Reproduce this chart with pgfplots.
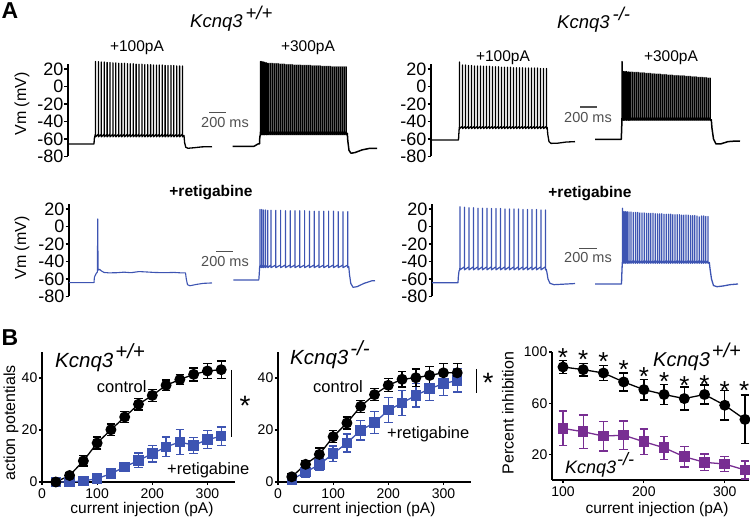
\documentclass[border=0pt]{standalone}
\usepackage{fontspec}
\setmainfont{Liberation Sans}
\usepackage{pgfplots}
\usepackage{pgfplotstable}
\pgfplotsset{compat=1.18}
\definecolor{rblue}{RGB}{61,84,178}
\definecolor{rpurp}{RGB}{120,46,146}
\definecolor{sgray}{RGB}{80,80,80}
\newcommand{\fs}[1]{\fontsize{#1}{#1}\selectfont}
\pgfplotsset{
  trace/.style={scale only axis, anchor=south west, height=92.75pt, xmin=0, ymin=-80, ymax=26,
    axis x line=none, axis y line*=left, clip=false,
    ytick={-80,-60,-40,-20,0,20}, yticklabels={-80,-60,-40,-20,0,20},
    tick align=outside, major tick length=3.5pt, axis line style={line width=1.3pt},
    tick style={line width=1.2pt, black}, yticklabel style={font=\fs{18}, inner sep=1pt}},
  bplot/.style={scale only axis, anchor=south west, axis lines*=left, clip=false,
    axis line style={line width=1.4pt}, tick align=outside, major tick length=3pt,
    tick style={line width=1.2pt, black}, ticklabel style={font=\fs{14}},
    yticklabel style={inner sep=1.5pt}, /pgf/number format/assume math mode=true},
  ebar/.style={error bars/y dir=both, error bars/y explicit,
    error bars/error bar style={line width=1.4pt},
    error bars/error mark options={rotate=90, line width=1.4pt, mark size=4.3pt}},
}
\pgfplotstableread{
x y e
25 0 0.8
50 2.5 1
75 8.1 2
100 15 2.3
125 20.1 2.2
150 25 2.2
175 29.9 2.2
200 33.3 2.3
225 37.2 2
250 39.4 2
275 41.4 2.5
300 42.7 2.8
325 43.2 3.3
}\wtctl
\pgfplotstableread{
x y e
25 0 0.5
50 0 0.8
75 0.4 0.8
100 1.3 1
125 3.2 1.2
150 5.8 1.8
175 8.3 2.8
200 10.9 3.2
225 13.5 3.8
250 15.4 4.8
275 14.1 3.1
300 16.3 3.4
325 17.6 3.5
}\wtret
\pgfplotstableread{
x y e
25 2 1
50 6.8 1.5
75 10.6 2.5
100 17.4 2.3
125 22.7 2.3
150 29.1 2.3
175 33.6 2.3
200 37.2 2.5
225 39.5 3
250 40.1 3.3
275 41 3.5
300 42 3.5
325 42 3.5
}\kocctl
\pgfplotstableread{
x y e
25 1 1
50 3.8 2
75 6.7 2.3
100 10.9 3
125 15 3.5
150 19.9 3.8
175 22.8 4.2
200 27.6 4.8
225 30.4 4.8
250 33.3 4.5
275 35.9 4.5
300 37.8 4.5
325 39.1 4.5
}\kocret
\pgfplotstableread{
x y e
100 88.3 5
125 86.2 5
150 83.6 6
175 76.6 7
200 70.6 8
225 66.8 8
250 63.6 9
275 66.8 7.5
300 58.4 11.5
325 47.3 19
}\inhwt
\pgfplotstableread{
x y e
100 40.3 13.5
125 37.7 13
150 34.3 11.5
175 35 11
200 29.9 10
225 25.2 9
250 18.2 8
275 13.8 6.5
300 12.5 6
325 7.8 7
}\inhko
\begin{document}
\begin{tikzpicture}[x=1pt,y=1pt]
\useasboundingbox (0,0) rectangle (750,524);
% ---------------- Panel A ----------------
\node[font=\fs{23}\bfseries] at (10,513) {A};
\node[anchor=base west, inner sep=0, font=\fs{18.5}\itshape] at (190,496) {Kcnq3\hspace{3pt}\raisebox{0.45em}{+/+}};
\node[anchor=base west, inner sep=0, font=\fs{18.5}\itshape] at (557,495) {Kcnq3\hspace{3pt}\raisebox{0.45em}{-/-}};
\node[anchor=base, inner sep=0, font=\fs{15.5}] at (137,472) {+100pA};
\node[anchor=base, inner sep=0, font=\fs{15.5}] at (308,472) {+300pA};
\node[anchor=base, inner sep=0, font=\fs{15.5}] at (503,462) {+100pA};
\node[anchor=base, inner sep=0, font=\fs{15.5}] at (671,462) {+300pA};
\node[anchor=base, inner sep=0, font=\fs{15.5}\bfseries] at (211,327) {+retigabine};
\node[anchor=base, inner sep=0, font=\fs{15.5}\bfseries] at (590,326) {+retigabine};
\node[rotate=90, font=\fs{16}] at (22,420) {Vm (mV)};
\node[rotate=90, font=\fs{16}] at (22,276) {Vm (mV)};

% top-left
\begin{axis}[trace, at={(68pt,367.5pt)}, width=310pt, xmax=310]
\addplot[black, line width=1.3pt, line join=round] coordinates {
(0,-65.7)(26,-65.7)(26.3,-60)(27.2,-55)
(27.5,-54.5)(27.5,28.5)(27.5,-57.5)
(30.4,-54.5)(30.4,28.5)(30.4,-57.5)
(33.3,-54.5)(33.3,28)(33.3,-57.5)
(36.2,-54.5)(36.2,28)(36.2,-57.5)
(39.1,-54.5)(39.1,27.5)(39.1,-57.5)
(42,-54.5)(42,27.5)(42,-57.5)
(44.9,-54.5)(44.9,27)(44.9,-57.5)
(47.8,-54.5)(47.8,27)(47.8,-57.5)
(50.7,-54.5)(50.7,26.5)(50.7,-57.5)
(53.6,-54.5)(53.6,26.5)(53.6,-57.5)
(56.5,-54.5)(56.5,26.5)(56.5,-57.5)
(59.4,-54.5)(59.4,26)(59.4,-57.5)
(62.3,-54.5)(62.3,26)(62.3,-57.5)
(65.2,-54.5)(65.2,26)(65.2,-57.5)
(68.1,-54.5)(68.1,25.5)(68.1,-57.5)
(71,-54.5)(71,25.5)(71,-57.5)
(73.9,-54.5)(73.9,25.5)(73.9,-57.5)
(76.8,-54.5)(76.8,25)(76.8,-57.5)
(79.7,-54.5)(79.7,25)(79.7,-57.5)
(82.6,-54.5)(82.6,25)(82.6,-57.5)
(85.5,-54.5)(85.5,24.5)(85.5,-57.5)
(88.4,-54.5)(88.4,24.5)(88.4,-57.5)
(91.3,-54.5)(91.3,24.5)(91.3,-57.5)
(94.2,-54.5)(94.2,24.5)(94.2,-57.5)
(97.1,-54.5)(97.1,24)(97.1,-57.5)
(100,-54.5)(100,24)(100,-57.5)
(102.9,-54.5)(102.9,24)(102.9,-57.5)
(105.8,-54.5)(105.8,24)(105.8,-57.5)
(108.7,-54.5)(108.7,23.5)(108.7,-57.5)
(111.6,-54.5)(111.6,23.5)(111.6,-57.5)
(114.5,-54.5)(114.5,23.5)(114.5,-57.5)
(116,-56)(116.6,-64)(117.8,-69.5)(120,-70.6)(126,-70)(134,-69)(144,-68.8)
};
\addplot[black, line width=1.5pt, line join=round] coordinates {
(164.5,-68.3)(186,-68.3)(188,-67)(190,-65.7)(191.5,-65.5)(191.8,-58)(192.3,-55)
(192.5,-52)(192.5,28.5)(192.5,-55)
(193.8,-52)(193.8,28.5)(193.8,-55)
(195.2,-52)(195.2,28)(195.2,-55)
(196.7,-52)(196.7,27.5)(196.7,-55)
(198.3,-52)(198.3,27)(198.3,-55)
(200,-52)(200,26.5)(200,-55)
(202,-52)(202,26.5)(202,-55)
(204,-52)(204,26.5)(204,-55)
(206,-52)(206,26)(206,-55)
(208,-52)(208,26)(208,-55)
(210,-52)(210,26)(210,-55)
(212,-52)(212,25.5)(212,-55)
(214,-52)(214,25.5)(214,-55)
(216,-52)(216,25.5)(216,-55)
(218,-52)(218,25)(218,-55)
(220,-52)(220,25)(220,-55)
(222,-52)(222,25)(222,-55)
(224,-52)(224,25)(224,-55)
(226,-52)(226,24.5)(226,-55)
(228,-52)(228,24.5)(228,-55)
(230,-52)(230,24.5)(230,-55)
(232,-52)(232,24.5)(232,-55)
(234,-52)(234,24)(234,-55)
(236,-52)(236,24)(236,-55)
(238,-52)(238,24)(238,-55)
(240,-52)(240,24)(240,-55)
(242,-52)(242,24)(242,-55)
(244,-52)(244,23.5)(244,-55)
(246,-52)(246,23.5)(246,-55)
(248,-52)(248,23.5)(248,-55)
(250,-52)(250,23.5)(250,-55)
(252,-52)(252,23.5)(252,-55)
(254,-52)(254,23)(254,-55)
(256,-52)(256,23)(256,-55)
(258,-52)(258,23)(258,-55)
(260,-52)(260,23)(260,-55)
(262,-52)(262,23)(262,-55)
(264,-52)(264,22.5)(264,-55)
(266,-52)(266,22.5)(266,-55)
(268,-52)(268,22.5)(268,-55)
(270,-52)(270,22.5)(270,-55)
(272,-52)(272,22.5)(272,-55)
(274,-52)(274,22.5)(274,-55)
(276,-52)(276,22.5)(276,-55)
(278,-52)(278,22.5)(278,-55)
(279.3,-53.5)(279.8,-62)(281,-73)(283,-76.3)(287,-75.5)(294,-72.5)(302,-70.6)(309,-70.6)
};
\draw[sgray, line width=1.5pt] (axis cs:141,-29.7) -- (axis cs:158,-29.7);
\node[sgray, font=\fs{14.5}] at (axis cs:157,-41.1) {200 ms};
\end{axis}

% top-right
\begin{axis}[trace, at={(431pt,367.5pt)}, width=311pt, xmax=311]
\addplot[black, line width=1.3pt, line join=round] coordinates {
(0,-61.1)(27.5,-61.1)(27.8,-55)(28.2,-48)
(28.5,-45.5)(28.5,28)(28.5,-48)
(31.5,-45.5)(31.5,24.5)(31.5,-48)
(34.5,-45.5)(34.5,24.5)(34.5,-48)
(37.5,-45.5)(37.5,24)(37.5,-48)
(40.5,-45.5)(40.5,24)(40.5,-48)
(43.5,-45.5)(43.5,23.5)(43.5,-48)
(46.5,-45.5)(46.5,23.5)(46.5,-48)
(49.5,-45.5)(49.5,23.5)(49.5,-48)
(52.5,-45.5)(52.5,23)(52.5,-48)
(55.5,-45.5)(55.5,23)(55.5,-48)
(58.5,-45.5)(58.5,23)(58.5,-48)
(61.5,-45.5)(61.5,22.5)(61.5,-48)
(64.5,-45.5)(64.5,22.5)(64.5,-48)
(67.5,-45.5)(67.5,22.5)(67.5,-48)
(70.5,-45.5)(70.5,22)(70.5,-48)
(73.5,-45.5)(73.5,22)(73.5,-48)
(76.5,-45.5)(76.5,22)(76.5,-48)
(79.5,-45.5)(79.5,22)(79.5,-48)
(82.5,-45.5)(82.5,21.5)(82.5,-48)
(85.5,-45.5)(85.5,21.5)(85.5,-48)
(88.5,-45.5)(88.5,21.5)(88.5,-48)
(91.5,-45.5)(91.5,21.5)(91.5,-48)
(94.5,-45.5)(94.5,21)(94.5,-48)
(97.5,-45.5)(97.5,21)(97.5,-48)
(100.5,-45.5)(100.5,21)(100.5,-48)
(103.5,-45.5)(103.5,21)(103.5,-48)
(106.5,-45.5)(106.5,21)(106.5,-48)
(109.5,-45.5)(109.5,20.5)(109.5,-48)
(112.5,-45.5)(112.5,20.5)(112.5,-48)
(115.5,-45.5)(115.5,20.5)(115.5,-48)
(116.2,-47)(116.8,-55)(118,-63)(120,-65)(126,-64.9)(135,-63.5)(144,-63)
};
\addplot[black, line width=1.5pt, line join=round] coordinates {
(164,-60.3)(190.3,-60.3)(190.6,-50)(190.9,-40)
(191,-36)(191,28.5)(191,-38.5)
(192.5,-36)(192.5,17)(192.5,-38.5)
(194,-36)(194,17)(194,-38.5)
(195.6,-36)(195.6,17)(195.6,-38.5)
(197.3,-36)(197.3,16.5)(197.3,-38.5)
(199,-36)(199,16.5)(199,-38.5)
(201,-36)(201,16.5)(201,-38.5)
(203,-36)(203,16)(203,-38.5)
(205,-36)(205,16)(205,-38.5)
(207,-36)(207,16)(207,-38.5)
(209,-36)(209,15.5)(209,-38.5)
(211,-36)(211,15.5)(211,-38.5)
(213,-36)(213,15.5)(213,-38.5)
(215,-36)(215,15)(215,-38.5)
(217,-36)(217,15)(217,-38.5)
(219,-36)(219,15)(219,-38.5)
(221,-36)(221,14.5)(221,-38.5)
(223,-36)(223,14.5)(223,-38.5)
(225,-36)(225,14)(225,-38.5)
(227,-36)(227,14)(227,-38.5)
(229,-36)(229,14)(229,-38.5)
(231,-36)(231,13.5)(231,-38.5)
(233,-36)(233,13.5)(233,-38.5)
(235,-36)(235,13.5)(235,-38.5)
(237,-36)(237,13)(237,-38.5)
(239,-36)(239,13)(239,-38.5)
(241,-36)(241,13)(241,-38.5)
(243,-36)(243,12.5)(243,-38.5)
(245,-36)(245,12.5)(245,-38.5)
(247,-36)(247,12.5)(247,-38.5)
(249,-36)(249,12)(249,-38.5)
(251,-36)(251,12)(251,-38.5)
(253,-36)(253,12)(253,-38.5)
(255,-36)(255,11.5)(255,-38.5)
(257,-36)(257,11.5)(257,-38.5)
(259,-36)(259,11.5)(259,-38.5)
(261,-36)(261,11)(261,-38.5)
(263,-36)(263,11)(263,-38.5)
(265,-36)(265,11)(265,-38.5)
(267,-36)(267,10.5)(267,-38.5)
(269,-36)(269,10.5)(269,-38.5)
(271,-36)(271,10.5)(271,-38.5)
(273,-36)(273,10)(273,-38.5)
(275,-36)(275,10)(275,-38.5)
(277,-36)(277,9.5)(277,-38.5)
(279,-36)(279,9.5)(279,-38.5)
(280.3,-38)(281,-48)(282.5,-60)(285,-65.7)(290,-65.5)(297,-63)(305,-62.3)(309,-62.5)
};
\draw[sgray, line width=1.5pt] (axis cs:149,-23.4) -- (axis cs:166,-23.4);
\node[sgray, font=\fs{14.5}] at (axis cs:157,-34.9) {200 ms};
\end{axis}

% bottom-left
\begin{axis}[trace, at={(69pt,227.5pt)}, width=310pt, xmax=310]
\addplot[rblue, line width=1.1pt, line join=round] coordinates {
(0,-64.2)(25,-64.2)(25.4,-58)(27,-54)(28.4,-52)(28.7,8.6)(29.1,-50)(30.5,-48.9)(32,-50.5)(35,-52.5)(40,-53)(48,-52.8)(55,-52.2)(62,-52.8)(70,-51.5)(78,-52)(85,-52.5)(95,-52.8)(105,-52.5)(112,-53)(116.5,-53)(117.3,-60)(118.5,-66.5)(121,-67.7)(127,-66.3)(134,-65)(143,-64.5)
};
\addplot[rblue, line width=1.2pt, line join=round] coordinates {
(164.3,-61.1)(189.8,-61.1)(190.2,-55)(190.6,-47)
(191,-44)(191,19.5)(191,-47)
(192.7,-44)(192.7,19.5)(192.7,-47)
(194.5,-44)(194.5,19)(194.5,-47)
(196.5,-44)(196.5,19)(196.5,-47)
(198.8,-44)(198.8,18.5)(198.8,-47)
(202,-44)(202,18.5)(202,-47)
(206.8,-44)(206.8,18.5)(206.8,-47)
(211.6,-44)(211.6,18.5)(211.6,-47)
(216.4,-44)(216.4,18)(216.4,-47)
(221.2,-44)(221.2,18)(221.2,-47)
(226,-44)(226,18)(226,-47)
(230.8,-44)(230.8,18)(230.8,-47)
(235.6,-44)(235.6,18)(235.6,-47)
(240.4,-44)(240.4,17.5)(240.4,-47)
(245.2,-44)(245.2,17.5)(245.2,-47)
(250,-44)(250,17.5)(250,-47)
(254.8,-44)(254.8,17.5)(254.8,-47)
(259.6,-44)(259.6,17.5)(259.6,-47)
(264.4,-44)(264.4,17.5)(264.4,-47)
(269.2,-44)(269.2,17)(269.2,-47)
(274,-44)(274,17)(274,-47)
(278.8,-44)(278.8,17)(278.8,-47)
(279.8,-46)(280.5,-55)(281.8,-65)(284,-69.5)(288,-68.8)(295,-65)(303,-62)(306,-61.9)
};
\draw[sgray, line width=1.5pt] (axis cs:147,-28.8) -- (axis cs:164,-28.8);
\node[sgray, font=\fs{14.5}] at (axis cs:156,-40.2) {200 ms};
\end{axis}

% bottom-right
\begin{axis}[trace, at={(432pt,227.5pt)}, width=311pt, xmax=311]
\addplot[rblue, line width=1.2pt, line join=round] coordinates {
(0,-64.2)(26,-64.2)(26.3,-58)(27,-51)(27.7,-49)
(28,-46)(28,22.5)(28,-49.5)
(32.5,-46)(32.5,22)(32.5,-49.5)
(37,-46)(37,21.5)(37,-49.5)
(41.5,-46)(41.5,21.5)(41.5,-49.5)
(46,-46)(46,21)(46,-49.5)
(50.5,-46)(50.5,21)(50.5,-49.5)
(55,-46)(55,21)(55,-49.5)
(59.5,-46)(59.5,20.5)(59.5,-49.5)
(64,-46)(64,20.5)(64,-49.5)
(68.5,-46)(68.5,20.5)(68.5,-49.5)
(73,-46)(73,20)(73,-49.5)
(77.5,-46)(77.5,20)(77.5,-49.5)
(82,-46)(82,20)(82,-49.5)
(86.5,-46)(86.5,20)(86.5,-49.5)
(91,-46)(91,19.5)(91,-49.5)
(95.5,-46)(95.5,19.5)(95.5,-49.5)
(100,-46)(100,19.5)(100,-49.5)
(104.5,-46)(104.5,19.5)(104.5,-49.5)
(109,-46)(109,19)(109,-49.5)
(113.5,-46)(113.5,19)(113.5,-49.5)
(114.3,-49)(115,-53)(116,-60)(118,-65)(122,-66.5)(130,-66)(143,-65.2)
};
\addplot[rblue, line width=1.3pt, line join=round] coordinates {
(163,-65.7)(189.5,-65.7)(189.8,-55)(190.2,-44)
(190.5,-39)(190.5,20.8)(190.5,-42)
(192,-39)(192,17)(192,-42)
(193.6,-39)(193.6,17)(193.6,-42)
(195.3,-39)(195.3,16.8)(195.3,-42)
(197,-39)(197,16.5)(197,-42)
(199,-39)(199,16.5)(199,-42)
(201.2,-39)(201.2,16)(201.2,-42)
(203.4,-39)(203.4,16)(203.4,-42)
(205.6,-39)(205.6,16)(205.6,-42)
(207.8,-39)(207.8,15.5)(207.8,-42)
(210,-39)(210,15.5)(210,-42)
(212.2,-39)(212.2,15.5)(212.2,-42)
(214.4,-39)(214.4,15)(214.4,-42)
(216.6,-39)(216.6,15)(216.6,-42)
(218.8,-39)(218.8,15)(218.8,-42)
(221,-39)(221,15)(221,-42)
(223.2,-39)(223.2,14.5)(223.2,-42)
(225.4,-39)(225.4,14.5)(225.4,-42)
(227.6,-39)(227.6,14.5)(227.6,-42)
(229.8,-39)(229.8,14.5)(229.8,-42)
(232,-39)(232,14)(232,-42)
(234.2,-39)(234.2,14)(234.2,-42)
(236.4,-39)(236.4,14)(236.4,-42)
(238.6,-39)(238.6,14)(238.6,-42)
(240.8,-39)(240.8,13.5)(240.8,-42)
(243,-39)(243,13.5)(243,-42)
(245.2,-39)(245.2,13.5)(245.2,-42)
(247.4,-39)(247.4,13.5)(247.4,-42)
(249.6,-39)(249.6,13)(249.6,-42)
(251.8,-39)(251.8,13)(251.8,-42)
(254,-39)(254,13)(254,-42)
(256.2,-39)(256.2,13)(256.2,-42)
(258.4,-39)(258.4,12.5)(258.4,-42)
(260.6,-39)(260.6,12.5)(260.6,-42)
(262.8,-39)(262.8,12.5)(262.8,-42)
(265,-39)(265,12)(265,-42)
(267.2,-39)(267.2,11)(267.2,-42)
(269.4,-39)(269.4,12)(269.4,-42)
(271.6,-39)(271.6,12)(271.6,-42)
(273.8,-39)(273.8,11.5)(273.8,-42)
(276,-39)(276,11.5)(276,-42)
(277.3,-41)(278,-48)(279.5,-60)(281.5,-67.5)(285,-68.8)(291,-68)(298,-66.5)(306,-65.7)
};
\draw[sgray, line width=1.5pt] (axis cs:147,-24.9) -- (axis cs:165,-24.9);
\node[sgray, font=\fs{14.5}] at (axis cs:156,-35.2) {200 ms};
\end{axis}

% ---------------- Panel B ----------------
\node[font=\fs{23}\bfseries] at (10,186.5) {B};
\node[rotate=90, font=\fs{16}] at (11,101) {action potentials};
\node[rotate=90, font=\fs{16}] at (508,111) {Percent inhibition};
\node[font=\fs{15.5}] at (142,15) {current injection (pA)};
\node[font=\fs{15.5}] at (364,15) {current injection (pA)};
\node[font=\fs{15.5}] at (657,15) {current injection (pA)};

\begin{axis}[bplot, at={(42pt,42pt)}, width=193pt, height=130pt, xmin=0, xmax=350, ymin=0, ymax=50, xtick={0,100,200,300}, ytick={0,20,40}]
\addplot[rblue, line width=1.3pt, mark=square*, mark size=4.6pt, ebar] table[x=x,y=y,y error=e] {\wtret};
\addplot[black, line width=1.3pt, mark=*, mark size=4.8pt, ebar] table[x=x,y=y,y error=e] {\wtctl};
\end{axis}
\node[anchor=base west, inner sep=0, font=\fs{20.5}\itshape] at (55,156) {Kcnq3\hspace{2pt}\raisebox{0.47em}{+/+}};
\node[anchor=base, inner sep=0, font=\fs{16.5}] at (121.7,131) {control};
\node[anchor=base west, inner sep=0, font=\fs{16.5}] at (167,49) {+retigabine};
\draw[line width=1.4pt] (231.7,154) -- (231.7,87.3);
\node[font=\fs{28}, inner sep=0] at (245,118) {*};

\begin{axis}[bplot, at={(278pt,42pt)}, width=193pt, height=130pt, xmin=0, xmax=350, ymin=0, ymax=50, xtick={0,100,200,300}, ytick={0,20,40}]
\addplot[rblue, line width=1.3pt, mark=square*, mark size=4.6pt, ebar] table[x=x,y=y,y error=e] {\kocret};
\addplot[black, line width=1.3pt, mark=*, mark size=4.8pt, ebar] table[x=x,y=y,y error=e] {\kocctl};
\end{axis}
\node[anchor=base west, inner sep=0, font=\fs{20.5}\itshape] at (290,159) {Kcnq3\hspace{2pt}\raisebox{0.47em}{-/-}};
\node[anchor=base west, inner sep=0, font=\fs{16.5}] at (313,131.3) {control};
\node[anchor=base west, inner sep=0, font=\fs{16.5}] at (387,85.7) {+retigabine};
\draw[line width=1.4pt] (476.7,155) -- (476.7,131.3);
\node[font=\fs{28}, inner sep=0] at (488,141) {*};

\begin{axis}[bplot, at={(552pt,44pt)}, width=197pt, height=128pt, xmin=86.4, xmax=330, ymin=0, ymax=100, xtick={100,200,300}, ytick={20,60,100}]
\addplot[rpurp, line width=1.3pt, mark=square*, mark size=4.6pt, ebar] table[x=x,y=y,y error=e] {\inhko};
\addplot[black, line width=1.3pt, mark=*, mark size=4.8pt, ebar] table[x=x,y=y,y error=e] {\inhwt};
\node[font=\fs{26}, inner sep=0, yshift=-5.5pt] at (axis cs:100,100) {*};
\node[font=\fs{26}, inner sep=0, yshift=-5.5pt] at (axis cs:125,98.7) {*};
\node[font=\fs{26}, inner sep=0, yshift=-5.5pt] at (axis cs:150,96.6) {*};
\node[font=\fs{26}, inner sep=0, yshift=-5.5pt] at (axis cs:175,90.9) {*};
\node[font=\fs{26}, inner sep=0, yshift=-5.5pt] at (axis cs:200,84.9) {*};
\node[font=\fs{26}, inner sep=0, yshift=-5.5pt] at (axis cs:225,81) {*};
\node[font=\fs{26}, inner sep=0, yshift=-5.5pt] at (axis cs:250,77.9) {*};
\node[font=\fs{26}, inner sep=0, yshift=-5.5pt] at (axis cs:275,78.7) {*};
\node[font=\fs{26}, inner sep=0, yshift=-5.5pt] at (axis cs:300,74) {*};
\node[font=\fs{26}, inner sep=0, yshift=-5.5pt] at (axis cs:324,74) {*};
\end{axis}
\node[anchor=base west, inner sep=0, font=\fs{20}\itshape] at (653,157) {Kcnq3\hspace{2pt}\raisebox{0.47em}{+/+}};
\node[anchor=base west, inner sep=0, font=\fs{18}\itshape] at (565,50) {Kcnq3\hspace{1pt}\raisebox{0.47em}{-/-}};
\end{tikzpicture}
\end{document}
